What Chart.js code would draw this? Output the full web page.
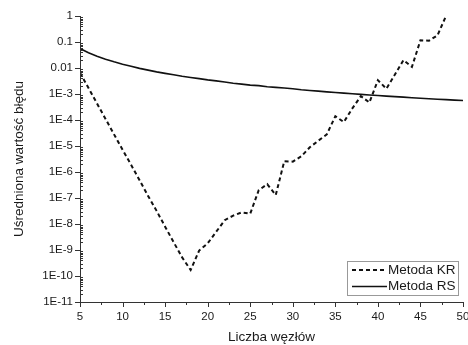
<!DOCTYPE html>
<html>
<head>
<meta charset="utf-8">
<script src="https://cdn.jsdelivr.net/npm/chart.js@4.4.1/dist/chart.umd.min.js"></script>
<style>
  html, body { margin: 0; padding: 0; background: #fff; }
</style>
</head>
<body>
<canvas id="chart" width="468" height="345"></canvas>
<script>
// number of nodes (x)
const nodes = [5, 6, 7, 8, 9, 10, 11, 12, 13, 14, 15, 16, 17, 18, 19, 20, 21, 22, 23, 24, 25, 26, 27,
  28, 29, 30, 31, 32, 33, 34, 35, 36, 37, 38, 39, 40, 41, 42, 43, 44, 45, 46, 47, 48, 49, 50];

// Metoda KR (dashed), nodes 5..48
const krValues = [6.5e-3, 1.7e-3, 4.3e-4, 1.1e-4, 2.8e-5, 7.2e-6, 1.9e-6, 4.8e-7, 1.2e-7, 3.2e-8,
  7.9e-9, 2.0e-9, 5.2e-10, 1.7e-10, 9.5e-10, 1.8e-9, 5.0e-9, 1.4e-8, 2.1e-8, 2.8e-8,
  2.5e-8, 2.0e-7, 3.4e-7, 1.3e-7, 2.6e-6, 2.5e-6, 4.0e-6, 8.9e-6, 1.6e-5, 2.8e-5,
  1.4e-4, 8.3e-5, 2.8e-4, 8.3e-4, 4.7e-4, 3.4e-3, 1.6e-3, 5.6e-3, 0.02, 0.011,
  0.117, 0.112, 0.18, 1.0];

// Metoda RS (solid), nodes 5..50
const rsValues = [0.056, 0.0389, 0.0286, 0.0219, 0.0173, 0.014, 0.0116, 0.0097, 0.0083, 0.0071,
  0.0062, 0.0055, 0.0048, 0.0043, 0.0039, 0.0035, 0.0032, 0.0029, 0.0026, 0.0024,
  0.0022, 0.0021, 0.0019, 0.0018, 0.0017, 0.0016, 0.00146, 0.00137, 0.00129, 0.00121,
  0.00114, 0.00108, 0.00102, 0.00097, 0.00092, 0.00088, 0.00083, 0.00079, 0.00076, 0.00072,
  0.00069, 0.00066, 0.00063, 0.00061, 0.00058, 0.00056];

const xTicks = [5, 10, 15, 20, 25, 30, 35, 40, 45, 50];
const xMinorTicks = [7.5, 12.5, 17.5, 22.5, 27.5, 32.5, 37.5, 42.5, 47.5];
const yTicks = [1, 0.1, 0.01, 1e-3, 1e-4, 1e-5, 1e-6, 1e-7, 1e-8, 1e-9, 1e-10, 1e-11];
const yTickLabels = ["1", "0.1", "0.01", "1E-3", "1E-4", "1E-5", "1E-6", "1E-7", "1E-8", "1E-9", "1E-10", "1E-11"];

const FONT = "'Liberation Sans', Arial, sans-serif";
const INK = "#1a1a1a";

// axis lines, major and minor tick marks
const axisPlugin = {
  id: "axisTicks",
  afterDraw(chart) {
    const { ctx, chartArea: a } = chart;
    const xs = chart.scales.x, ys = chart.scales.y;
    ctx.save();
    ctx.strokeStyle = "#333";
    ctx.lineWidth = 1;
    ctx.beginPath();
    ctx.moveTo(a.left + 0.5, a.top);
    ctx.lineTo(a.left + 0.5, a.bottom + 0.5);
    ctx.lineTo(a.right, a.bottom + 0.5);
    ctx.stroke();

    ctx.beginPath();
    xTicks.forEach(v => {
      const px = Math.round(xs.getPixelForValue(v)) + 0.5;
      ctx.moveTo(px, a.bottom);
      ctx.lineTo(px, a.bottom + 5);
    });
    xMinorTicks.forEach(v => {
      const px = Math.round(xs.getPixelForValue(v)) + 0.5;
      ctx.moveTo(px, a.bottom);
      ctx.lineTo(px, a.bottom + 3);
    });
    yTicks.forEach(v => {
      const py = Math.round(ys.getPixelForValue(v)) + 0.5;
      ctx.moveTo(a.left - 5, py);
      ctx.lineTo(a.left + 1, py);
    });
    yTicks.slice(0, -1).forEach(v => {
      for (let k = 2; k <= 9; k++) {
        const py = Math.round(ys.getPixelForValue(v * k / 10)) + 0.5;
        ctx.moveTo(a.left, py);
        ctx.lineTo(a.left + 3, py);
      }
    });
    ctx.stroke();
    ctx.restore();
  }
};

// legend box inside the plot, bottom right
const legendPlugin = {
  id: "insideLegend",
  afterDraw(chart) {
    const { ctx, chartArea: a } = chart;
    const boxW = 111, boxH = 34;
    const bx = a.right - 5 - boxW, by = a.bottom - 7 - boxH;
    ctx.save();
    ctx.fillStyle = "#fff";
    ctx.fillRect(bx, by, boxW, boxH);
    ctx.strokeStyle = "#999";
    ctx.lineWidth = 1;
    ctx.strokeRect(bx + 0.5, by + 0.5, boxW, boxH);
    ctx.font = "13.5px " + FONT;
    ctx.textBaseline = "middle";
    chart.data.datasets.forEach((ds, i) => {
      const cy = by + 9 + i * 16.5;
      ctx.strokeStyle = ds.borderColor;
      ctx.lineWidth = ds.borderWidth;
      ctx.setLineDash(ds.borderDash || []);
      ctx.beginPath();
      ctx.moveTo(bx + 5, cy);
      ctx.lineTo(bx + 40, cy);
      ctx.stroke();
      ctx.setLineDash([]);
      ctx.fillStyle = INK;
      ctx.fillText(ds.label, bx + 41, cy);
    });
    ctx.restore();
  }
};

new Chart(document.getElementById("chart"), {
  type: "line",
  data: {
    datasets: [
      {
        label: "Metoda KR",
        data: krValues.map((v, i) => ({ x: nodes[i], y: v })),
        borderColor: "#111",
        borderWidth: 2,
        borderDash: [4, 3],
        pointRadius: 0,
        tension: 0,
        fill: false
      },
      {
        label: "Metoda RS",
        data: rsValues.map((v, i) => ({ x: nodes[i], y: v })),
        borderColor: "#111",
        borderWidth: 1.6,
        pointRadius: 0,
        tension: 0,
        fill: false
      }
    ]
  },
  options: {
    responsive: false,
    animation: false,
    events: [],
    layout: { autoPadding: false, padding: { top: 16, right: 5, bottom: 0, left: 0 } },
    plugins: { legend: { display: false }, tooltip: { enabled: false } },
    scales: {
      x: {
        type: "linear",
        min: 5,
        max: 50,
        afterBuildTicks: s => { s.ticks = xTicks.map(v => ({ value: v })); },
        afterFit: s => { s.height = 43; s.paddingLeft = 0; s.paddingRight = 0; },
        grid: { display: false, drawTicks: false },
        border: { display: false },
        ticks: { color: INK, font: { family: FONT, size: 11.5 }, padding: 8, maxRotation: 0 },
        title: { display: true, text: "Liczba węzłów", color: INK, font: { family: FONT, size: 13.5 }, padding: { top: 0, bottom: 0 } }
      },
      y: {
        type: "logarithmic",
        min: 1e-11,
        max: 1,
        afterBuildTicks: s => { s.ticks = yTicks.map(v => ({ value: v })); },
        afterFit: s => { s.width = 80; s.paddingTop = 0; s.paddingBottom = 0; },
        grid: { display: false, drawTicks: false },
        border: { display: false },
        ticks: {
          color: INK,
          font: { family: FONT, size: 11.5 },
          padding: 7,
          callback: v => yTickLabels[yTicks.findIndex(t => Math.abs(Math.log10(t) - Math.log10(v)) < 1e-6)]
        },
        title: { display: true, text: "Uśredniona wartość błędu", color: INK, font: { family: FONT, size: 13.5 }, padding: { top: 11, bottom: 0 } }
      }
    }
  },
  plugins: [axisPlugin, legendPlugin]
});
</script>
</body>
</html>
